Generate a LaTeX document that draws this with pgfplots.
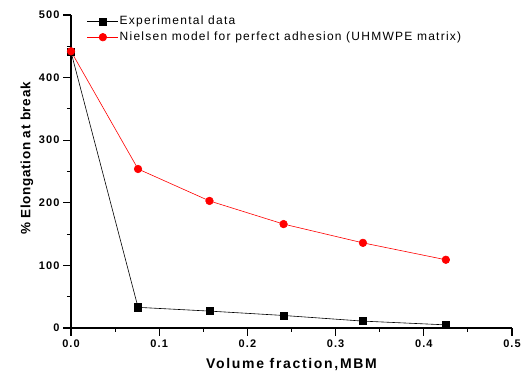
\documentclass[border=0pt]{standalone}
\usepackage{fontspec}
\setmainfont{Liberation Sans}
\newfontfamily\lsTick[LetterSpace=10]{Liberation Sans}
\newfontfamily\lsX[LetterSpace=12]{Liberation Sans}
\newfontfamily\lsY[LetterSpace=5]{Liberation Sans}
\newfontfamily\lsLeg[LetterSpace=10.5]{Liberation Sans}
\usepackage{pgfplots}
\pgfplotsset{compat=1.18}
\begin{document}
\begin{tikzpicture}
\begin{axis}[
  scale only axis,
  at={(0pt,0pt)}, anchor=south west,
  width=441pt, height=313pt,
  xmin=0, xmax=0.5, ymin=0, ymax=500,
  axis x line*=bottom, axis y line*=left,
  axis line style={line width=1.3pt},
  tick align=outside,
  major tick length=8pt, minor tick length=4pt,
  every tick/.style={line width=1.1pt, black},
  xtick={0,0.1,0.2,0.3,0.4,0.5},
  ytick={0,100,200,300,400,500},
  minor x tick num=1, minor y tick num=1,
  xticklabels={0.0,0.1,0.2,0.3,0.4,0.5},
  /pgf/number format/assume math mode=true,
  tick label style={font=\lsTick\fontsize{11}{13}\selectfont\bfseries},
  xlabel={\lsX\fontsize{14}{16}\selectfont\bfseries Volume fraction,MBM},
  ylabel={\lsY\fontsize{13.5}{16}\selectfont\bfseries \% Elongation at break},
  xlabel style={at={(axis description cs:0.5,0)}, anchor=base, yshift=-41pt},
  ylabel style={at={(axis description cs:-0.1,0.5415)}, anchor=center, rotate=0},
  legend style={draw=none, fill=none, at={(axis description cs:0.036,1.0)}, anchor=north west,
    inner sep=0pt, row sep=2.5pt,
    font=\lsLeg\fontsize{12}{13}\selectfont,
    nodes={inner xsep=1pt, inner ysep=1pt, text height=8.5pt, text depth=2.5pt}},
  legend cell align=left,
  legend image code/.code={\draw[mark repeat=2,mark phase=2,#1] plot coordinates {(0pt,0pt) (15.5pt,0pt) (31pt,0pt)};},
]
\addplot[black, line width=0.6pt, mark=square*, mark size=3.6pt, mark options={solid}]
coordinates {(0,441) (0.076,33) (0.157,27) (0.241,20) (0.331,11) (0.425,5)};
\addlegendentry{Experimental data}
\addplot[red, line width=0.6pt, mark=*, mark size=3.8pt, mark options={solid}]
coordinates {(0,442) (0.076,254) (0.157,203) (0.241,166) (0.331,136) (0.425,109)};
\addlegendentry{Nielsen model for perfect adhesion (UHMWPE matrix)}
\end{axis}
\pgfresetboundingbox
\path (-71pt,-49pt) rectangle (452pt,328pt);
\end{tikzpicture}
\end{document}
